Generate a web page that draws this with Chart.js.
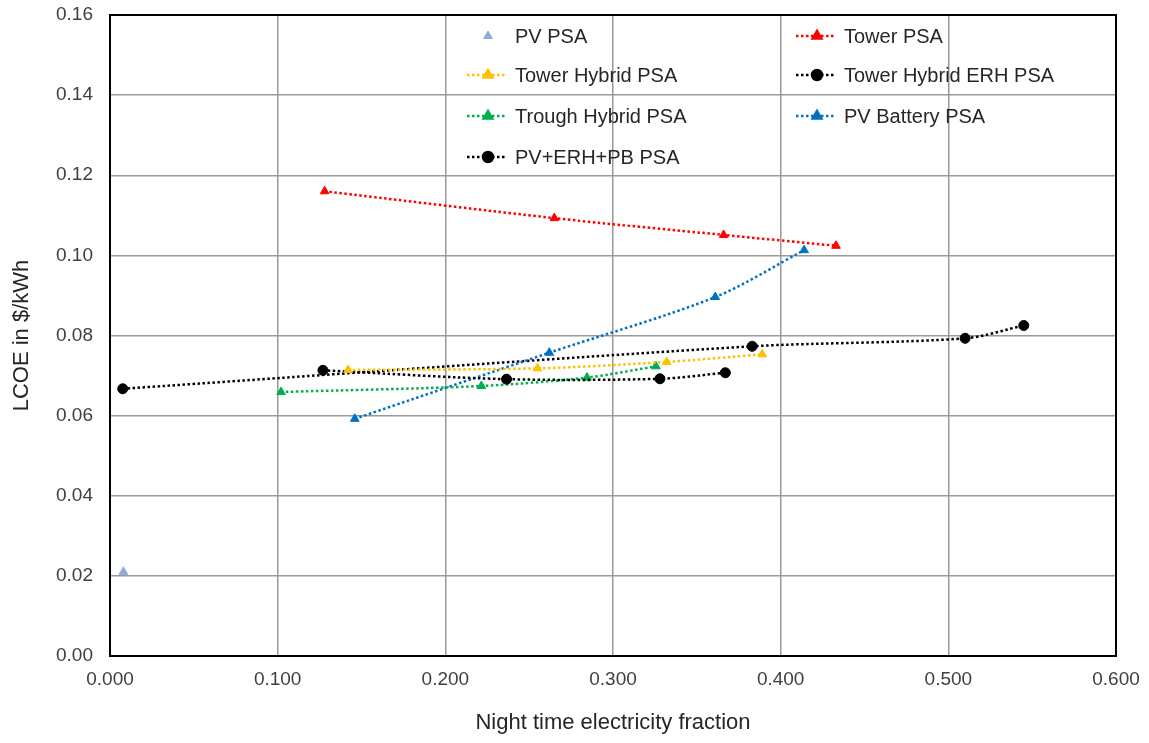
<!DOCTYPE html>
<html>
<head>
<meta charset="utf-8">
<script src="https://cdn.jsdelivr.net/npm/chart.js@4"></script>
<style>
body { margin: 0; background: #fff; }
#wrap { width: 1149px; height: 743px; }
</style>
</head>
<body>
<div id="wrap"><canvas id="lcoe" width="1149" height="743"></canvas></div>
<script>
// values
var pvX = [0.008]
var pvY = [0.021]
var towerX = [0.128, 0.265, 0.366, 0.433]
var towerY = [0.1160, 0.1093, 0.1051, 0.1024]
var towerHybX = [0.142, 0.255, 0.332, 0.389]
var towerHybY = [0.0714, 0.0718, 0.0734, 0.0753]
var towerErhX = [0.127, 0.2365, 0.328, 0.367]
var towerErhY = [0.0713, 0.0691, 0.0692, 0.0707]
var troughX = [0.102, 0.2215, 0.2845, 0.3256]
var troughY = [0.0659, 0.0674, 0.0695, 0.0723]
var batteryX = [0.146, 0.262, 0.361, 0.414]
var batteryY = [0.0592, 0.0757, 0.0896, 0.1013]
var pbX = [0.0076, 0.383, 0.510, 0.545]
var pbY = [0.0667, 0.0773, 0.0793, 0.0825]

var seriesNames = ['PV PSA', 'Tower PSA', 'Tower Hybrid PSA', 'Tower Hybrid ERH PSA',
	'Trough Hybrid PSA', 'PV Battery PSA', 'PV+ERH+PB PSA']

var FONT = '"Liberation Sans", Arial, sans-serif'

function pts(xs, ys)
{
	return xs.map(function(x, i){ return {x: x, y: ys[i]} })
}

function series(name, xs, ys, color, shape, line)
{
	return {
		label: name,
		data: pts(xs, ys),
		showLine: line,
		borderColor: color,
		backgroundColor: color,
		borderWidth: 2.5,
		borderDash: [2.5, 2.5],
		tension: 0.3,
		pointStyle: shape,
		pointRadius: 5,
		pointBorderWidth: 1,
		pointHoverRadius: 5
	}
}

// legend drawn inside the plot, two columns
var insideLegend = {
	id: 'insideLegend',
	afterDraw: function(chart)
	{
		var ctx = chart.ctx
		var cols = [467, 796]
		var rows = [36, 75, 116, 157]
		ctx.save()
		chart.data.datasets.forEach(function(ds, i)
		{
			var x = cols[i % 2]
			var y = rows[Math.floor(i / 2)]
			if(ds.showLine)
			{
				ctx.strokeStyle = ds.borderColor
				ctx.lineWidth = 2.5
				ctx.setLineDash([2.5, 2.5])
				ctx.beginPath()
				ctx.moveTo(x, y)
				ctx.lineTo(x + 40, y)
				ctx.stroke()
				ctx.setLineDash([])
			}
			ctx.fillStyle = ds.backgroundColor
			ctx.strokeStyle = ds.borderColor
			Chart.helpers.drawPoint(ctx, {pointStyle: ds.pointStyle, radius: 5, borderWidth: 1},
				x + 21, y)
			ctx.fillStyle = '#262626'
			ctx.font = '20px ' + FONT
			ctx.textBaseline = 'middle'
			ctx.fillText(ds.label, x + 48, y + 1)
		})
		// black frame round the plot
		var a = chart.chartArea
		ctx.strokeStyle = '#000'
		ctx.lineWidth = 2
		ctx.strokeRect(a.left, a.top, a.right - a.left, a.bottom - a.top)
		ctx.restore()
	}
}

window.onload = function()
{
	var ctx = document.getElementById('lcoe')
	var chart = new Chart(ctx, {
		type: 'scatter',
		data: {
			datasets: [
				series(seriesNames[0], pvX, pvY, '#8eaadb', 'triangle', false),
				series(seriesNames[1], towerX, towerY, '#ff0000', 'triangle', true),
				series(seriesNames[2], towerHybX, towerHybY, '#ffc000', 'triangle', true),
				series(seriesNames[3], towerErhX, towerErhY, '#000000', 'circle', true),
				series(seriesNames[4], troughX, troughY, '#00b050', 'triangle', true),
				series(seriesNames[5], batteryX, batteryY, '#0070c0', 'triangle', true),
				series(seriesNames[6], pbX, pbY, '#000000', 'circle', true)
			]
		},
		options: {
			responsive: false,
			animation: false,
			devicePixelRatio: 1,
			layout: { padding: { left: 0, right: 33, top: 15, bottom: 0 } },
			plugins: {
				legend: { display: false },
				tooltip: { enabled: false }
			},
			scales: {
				x: {
					type: 'linear',
					min: 0,
					max: 0.6,
					afterFit: function(s)
					{
						s.height = 87
						s.paddingLeft = 0
						s.paddingRight = 0
					},
					ticks: {
						stepSize: 0.1,
						padding: 12,
						color: '#404040',
						font: { family: FONT, size: 19 },
						callback: function(v){ return v.toFixed(3) }
					},
					grid: { color: '#999999', lineWidth: 1.5, drawTicks: false },
					border: { color: '#000', width: 2 },
					title: {
						display: true,
						text: 'Night time electricity fraction',
						color: '#262626',
						padding: { top: 0, bottom: 7 },
						font: { family: FONT, size: 22 }
					}
				},
				y: {
					type: 'linear',
					min: 0,
					max: 0.16,
					afterFit: function(s)
					{
						s.width = 110
						s.paddingTop = 0
						s.paddingBottom = 0
					},
					ticks: {
						stepSize: 0.02,
						padding: 17,
						color: '#404040',
						font: { family: FONT, size: 19 },
						callback: function(v){ return v.toFixed(2) }
					},
					grid: { color: '#999999', lineWidth: 1.5, drawTicks: false },
					border: { color: '#000', width: 2 },
					title: {
						display: true,
						text: 'LCOE in $/kWh',
						color: '#262626',
						padding: { top: 9, bottom: 0 },
						font: { family: FONT, size: 22 }
					}
				}
			}
		},
		plugins: [insideLegend]
	})
}
</script>
</body>
</html>
